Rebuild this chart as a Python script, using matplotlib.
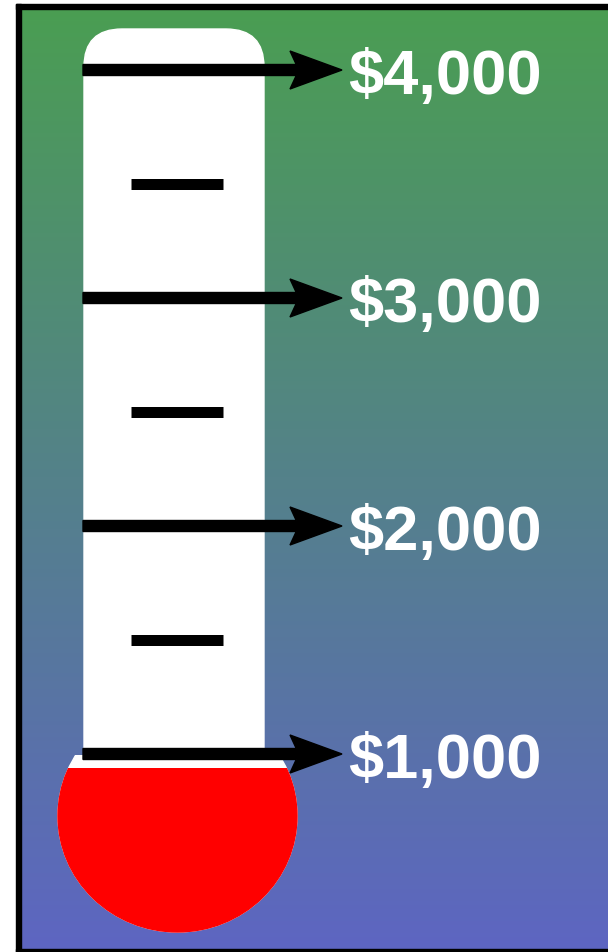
import numpy as np
import matplotlib
matplotlib.use('Agg')
import matplotlib.pyplot as plt
from matplotlib.patches import Rectangle, Ellipse, FancyBboxPatch, FancyArrow

# goal thermometer data
levels = [1000, 2000, 3000, 4000]
labels = ['$1,000', '$2,000', '$3,000', '$4,000']
minor_levels = [1500, 2500, 3500]

W, H = 608, 953
# pixel layout: $1,000 line at y=755px, 228px per $1,000
PX_PER_DOLLAR = 0.228
Y0_PX = 755

def dollars(ypx):
    return levels[0] + (Y0_PX - ypx) / PX_PER_DOLLAR

fig = plt.figure(figsize=(W / 100, H / 100), dpi=100)
fig.patch.set_facecolor('white')
ax = fig.add_axes([0, 0, 1, 1])
ax.axis('off')

# gradient background (drawn as stacked bands, no image resampling)
top = np.array([74, 157, 82]) / 255
bot = np.array([93, 101, 193]) / 255
n_bands = 235
edges = np.linspace(10, 950, n_bands + 1)
for i in range(n_bands):
    f = i / (n_bands - 1)
    ax.axhspan(dollars(edges[i + 1]), dollars(edges[i]), xmin=21 / W, xmax=1.0,
               color=top * (1 - f) + bot * f, lw=0, zorder=1)

# black frame: left, top, bottom
ax.add_patch(Rectangle((16, dollars(H + 5)), 5, dollars(5) - dollars(H + 5),
                       color='black', zorder=1.5))
ax.add_patch(Rectangle((16, dollars(10)), W + 100, dollars(5) - dollars(10),
                       color='black', zorder=1.5))
ax.add_patch(Rectangle((16, dollars(H + 5)), W + 100, dollars(950) - dollars(H + 5),
                       color='black', zorder=1.5))

# tube
ky = 1 / PX_PER_DOLLAR
tube = FancyBboxPatch((84, dollars(800)), 180, dollars(30) - dollars(800),
                      boxstyle='round,pad=0,rounding_size=38',
                      mutation_aspect=ky, color='white', zorder=2)
ax.add_patch(tube)

# bulb
cx, cy = 177.5, dollars(817)
bulb = Ellipse((cx, cy), 239, 232 * ky, color='white', zorder=2)
ax.add_patch(bulb)
clip_w = Rectangle((0, dollars(H)), W, dollars(756) - dollars(H), transform=ax.transData)
bulb.set_clip_path(clip_w)
red = Ellipse((cx, cy), 239, 232 * ky, color='#ff0000', zorder=3)
ax.add_patch(red)
clip_r = Rectangle((0, dollars(H)), W, dollars(769) - dollars(H), transform=ax.transData)
red.set_clip_path(clip_r)

# minor ticks
ax.hlines(minor_levels, 131, 223, color='black', linewidth=11 * 0.72,
          capstyle='butt', zorder=4)

# arrows + labels
for v, lab in zip(levels, labels):
    ax.add_patch(FancyArrow(83, v, 259, 0, width=11 * ky, head_width=38 * ky,
                            head_length=52, length_includes_head=True,
                            overhang=0.12, color='black', zorder=5))
    ax.text(348, v, lab, color='white', fontsize=45.5, fontweight='bold',
            family=['Liberation Sans', 'DejaVu Sans'], ha='left',
            va='center_baseline', zorder=6)

ax.set_xlim(0, W)
ax.set_ylim(dollars(H), dollars(0))

fig.savefig('out.png', dpi=100)
